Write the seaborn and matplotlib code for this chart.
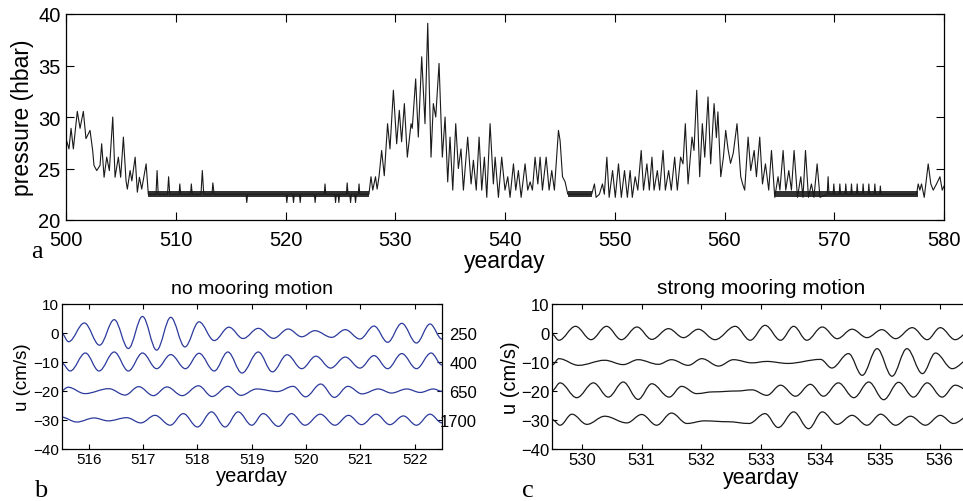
import matplotlib
matplotlib.use("Agg")
import matplotlib.pyplot as plt
import matplotlib.transforms as mtransforms
from matplotlib.path import Path
from matplotlib.patches import PathPatch
import seaborn as sns

# ---------------- panel a : pressure record ----------------
p_day = [500.0, 500.27, 500.46, 500.67, 501.03, 501.28, 501.58, 501.82, 502.19, 502.43,
         502.55, 502.8, 503.1, 503.25, 503.47, 503.71, 503.95, 504.26, 504.47, 504.77,
         504.98, 505.23, 505.47, 505.59, 505.84, 506.0, 506.3, 506.5, 506.69, 506.9,
         507.3, 507.5,
         508.2, 508.3, 508.4, 509.25, 509.35, 509.45, 510.3, 510.37, 510.45,
         511.35, 511.42, 511.5, 512.3, 512.42, 512.55, 513.3, 513.38, 513.5,
         516.4, 516.47, 516.55, 520.05, 520.12, 520.2, 520.66, 520.73, 520.8,
         521.27, 521.34, 521.41, 522.63, 522.7, 522.77, 523.53, 523.6, 523.67,
         524.5, 524.56, 524.63, 524.8, 524.86, 524.93, 525.55, 525.62, 525.7,
         525.86, 525.93, 526.0, 526.31, 526.38, 526.45, 526.63, 526.7, 526.77,
         527.6, 527.79, 527.95, 528.2, 528.35, 528.52, 528.76, 529.0, 529.3, 529.52,
         529.83, 530.13, 530.37, 530.58, 530.83, 531.1, 531.44, 531.55, 531.86, 532.1,
         532.41, 532.71, 532.96, 533.26, 533.47, 533.69, 533.99, 534.29, 534.54, 534.78,
         534.99, 535.24, 535.51, 535.75, 535.99, 536.21, 536.6, 536.91, 537.12, 537.38,
         537.64, 537.88, 538.12, 538.34, 538.64, 538.94, 539.1, 539.4, 539.7, 540.0,
         540.25, 540.46, 540.77, 540.98, 541.22, 541.47, 541.83, 542.07, 542.29, 542.5,
         542.74, 542.99, 543.2, 543.41, 543.75, 544.02, 544.26, 544.5, 544.87, 545.02,
         545.24, 545.48, 545.72,
         547.9, 548.15, 548.3, 548.6, 548.88, 549.05, 549.28, 549.49, 549.8, 550.05,
         550.34, 550.6, 550.89, 551.15, 551.4, 551.6, 551.86, 552.1, 552.41, 552.62,
         552.93, 553.15, 553.39, 553.58, 553.88, 554.09, 554.4, 554.61, 554.91, 555.15,
         555.46, 555.7, 556.0, 556.22, 556.43, 556.68, 557.04, 557.22, 557.47, 557.74,
         557.98, 558.2, 558.5, 558.74, 559.05, 559.26, 559.4, 559.66, 559.9, 560.11,
         560.32, 560.55, 560.8, 561.14, 561.48, 561.65, 561.84, 562.15, 562.39, 562.7,
         562.91, 563.21, 563.46, 563.73, 564.03, 564.28, 564.58, 564.88, 565.05, 565.34,
         565.58, 565.86, 566.1, 566.34, 566.65, 566.95, 567.15, 567.38, 567.65, 567.92,
         568.15, 568.44, 568.7,
         569.36, 569.44, 569.52, 569.9, 569.96, 570.03, 570.45, 570.51, 570.58,
         570.99, 571.05, 571.12, 571.51, 571.57, 571.64, 572.03, 572.09, 572.16,
         572.57, 572.63, 572.7, 573.09, 573.15, 573.22, 573.64, 573.7, 573.77,
         574.14, 574.2, 574.27,
         577.5, 577.65, 577.8, 577.95, 578.2, 578.56, 578.8, 579.02, 579.32, 579.63,
         579.84, 580.0]
p_hbar = [27.9, 26.9, 28.9, 26.9, 30.55, 28.9, 30.55, 27.9, 28.7, 26.75,
          25.3, 24.8, 25.3, 27.4, 24.15, 26.1, 24.8, 30.0, 24.15, 26.1,
          24.15, 28.05, 23.8, 23.0, 24.8, 23.8, 26.1, 22.7, 24.15, 23.0,
          25.45, 22.5,
          22.5, 24.8, 22.5, 22.5, 24.2, 22.5, 22.5, 23.5, 22.5,
          22.5, 23.5, 22.5, 22.5, 24.8, 22.5, 22.5, 23.6, 22.5,
          22.5, 21.7, 22.5, 22.5, 21.7, 22.5, 22.5, 21.7, 22.5,
          22.5, 21.7, 22.5, 22.5, 21.7, 22.5, 22.5, 23.5, 22.5,
          22.5, 21.7, 22.5, 22.5, 21.7, 22.5, 22.5, 23.6, 22.5,
          22.5, 21.7, 22.5, 22.5, 21.7, 22.5, 22.5, 23.5, 22.5,
          22.5, 24.2, 22.9, 24.2, 23.0, 24.2, 26.75, 24.3, 29.35, 26.9,
          32.6, 27.4, 30.65, 27.6, 31.3, 26.1, 29.35, 28.9, 33.7, 28.05,
          35.85, 29.35, 39.1, 26.1, 31.3, 30.0, 35.2, 26.1, 30.0, 23.7,
          28.05, 22.9, 29.35, 25.0, 26.9, 22.9, 28.05, 23.5, 25.8, 22.9,
          28.05, 22.9, 26.1, 22.2, 29.35, 23.5, 26.1, 22.2, 26.1, 22.9,
          24.2, 22.2, 25.45, 22.9, 24.8, 22.2, 25.45, 22.9, 23.7, 22.9,
          26.1, 23.5, 26.1, 22.9, 26.1, 22.9, 24.8, 22.9, 28.7, 27.7,
          24.2, 23.7, 22.5,
          22.5, 23.5, 22.2, 22.5, 23.5, 22.5, 26.1, 22.2, 24.8, 22.2,
          25.45, 22.2, 24.8, 22.2, 24.8, 22.2, 24.2, 22.9, 26.75, 22.9,
          25.45, 22.9, 26.1, 22.9, 24.8, 22.9, 26.75, 22.9, 24.8, 22.9,
          26.1, 22.9, 26.1, 25.45, 29.35, 23.5, 28.05, 26.75, 32.6, 24.2,
          29.35, 26.1, 31.95, 25.45, 31.3, 28.0, 30.5, 24.2, 26.1, 28.7,
          26.9, 25.5, 26.5, 29.35, 24.2, 23.5, 22.9, 28.05, 24.8, 26.75,
          24.2, 28.05, 23.5, 25.45, 22.9, 26.75, 22.2, 24.2, 22.9, 26.75,
          22.9, 24.8, 22.9, 26.75, 22.2, 24.2, 22.2, 26.75, 22.2, 23.5,
          22.2, 25.45, 22.2,
          22.5, 24.2, 22.5, 22.5, 23.5, 22.5, 22.5, 23.5, 22.5,
          22.5, 23.5, 22.5, 22.5, 23.5, 22.5, 22.5, 23.5, 22.5,
          22.5, 23.5, 22.5, 22.5, 23.5, 22.5, 22.5, 23.5, 22.5,
          22.5, 23.3, 22.5,
          22.5, 23.5, 22.9, 23.5, 22.2, 25.45, 23.5, 22.9, 23.5, 24.2,
          22.9, 23.3]
# stretches where the recorder toggles between two quantisation levels
band_start = [507.5, 545.7, 564.6]
band_end = [527.6, 547.95, 577.6]
band_low, band_high = 22.2, 22.85

# ---------------- panel b : no mooring motion (extrema of each trace) ----------------
b_labels = ["250", "400", "650", "1700"]
b_label_y = [0, -10, -20, -30]
b_day = [
    [515.5, 515.63, 515.92, 516.2, 516.47, 516.73, 516.99, 517.25, 517.51, 517.77, 518.03,
     518.31, 518.58, 518.84, 519.12, 519.4, 519.67, 519.92, 520.16, 520.47, 520.72, 520.99,
     521.25, 521.5, 521.76, 522.03, 522.28, 522.5],
    [515.5, 515.66, 515.94, 516.19, 516.47, 516.73, 516.99, 517.25, 517.51, 517.78, 518.03,
     518.31, 518.56, 518.82, 519.12, 519.38, 519.65, 519.92, 520.18, 520.45, 520.72, 520.99,
     521.25, 521.5, 521.76, 522.03, 522.3, 522.5],
    [515.5, 515.62, 515.93, 516.37, 516.67, 516.92, 517.19, 517.44, 517.72, 518.02, 518.27,
     518.56, 518.8, 519.09, 519.47, 519.76, 519.99, 520.27, 520.52, 520.77, 521.03, 521.33,
     521.57, 521.85, 522.1, 522.34, 522.5],
    [515.5, 515.78, 516.1, 516.36, 516.7, 516.96, 517.22, 517.5, 517.74, 518.0, 518.26,
     518.51, 518.75, 519.0, 519.21, 519.49, 519.73, 519.98, 520.26, 520.53, 520.78, 521.02,
     521.29, 521.54, 521.79, 522.03, 522.28, 522.5],
]
b_u = [
    [0.0, -3.0, 3.45, -4.2, 4.6, -5.35, 5.7, -5.9, 5.4, -4.8, 3.85,
     -2.6, 2.0, -1.9, 1.6, -1.84, 1.38, -1.3, 0.8, -1.5, 1.15, -2.07,
     2.4, -3.2, 3.33, -3.45, 3.1, -2.1],
    [-10.3, -13.1, -6.9, -13.1, -6.55, -13.1, -6.9, -12.3, -7.45, -12.3, -7.0,
     -13.1, -6.55, -13.8, -6.55, -13.4, -7.5, -12.3, -8.0, -12.1, -8.3, -12.1,
     -7.8, -12.3, -7.1, -12.3, -6.9, -11.0],
    [-19.9, -18.7, -20.9, -19.2, -21.4, -18.5, -21.6, -18.6, -21.6, -18.2, -21.9,
     -18.4, -21.5, -19.3, -20.2, -18.4, -22.0, -17.6, -22.2, -18.4, -21.0, -19.3,
     -20.7, -19.3, -20.5, -19.3, -20.1],
    [-29.0, -30.7, -29.3, -30.3, -29.2, -31.0, -28.4, -31.8, -27.8, -32.4, -27.2,
     -32.4, -27.2, -31.8, -27.8, -32.2, -27.8, -31.8, -28.0, -31.8, -28.4, -31.6,
     -28.0, -31.6, -28.6, -31.8, -28.0, -31.0],
]

# ---------------- panel c : strong mooring motion ----------------
c_day = [
    [529.5, 529.61, 529.89, 530.15, 530.41, 530.66, 530.92, 531.17, 531.45, 531.7, 531.95,
     532.23, 532.57, 532.82, 533.07, 533.33, 533.55, 533.77, 534.03, 534.28, 534.53, 534.78,
     535.03, 535.26, 535.54, 535.79, 536.01, 536.26, 536.5],
    [529.5, 529.61, 529.94, 530.38, 530.69, 530.94, 531.28, 531.5, 531.78, 532.01, 532.29,
     532.54, 532.85, 533.1, 533.45, 534.0, 534.19, 534.47, 534.7, 534.95, 535.2, 535.45,
     535.71, 535.93, 536.21, 536.5],
    [529.5, 529.63, 529.91, 530.19, 530.44, 530.69, 530.94, 531.17, 531.46, 531.67, 531.92,
     532.2, 532.6, 532.85, 533.1, 533.33, 533.58, 533.83, 534.05, 534.3, 534.56, 534.81,
     535.06, 535.31, 535.56, 535.79, 536.04, 536.26, 536.5],
    [529.5, 529.63, 529.83, 530.08, 530.38, 530.75, 531.0, 531.25, 531.5, 531.76, 532.05,
     532.45, 532.8, 533.07, 533.29, 533.55, 533.8, 534.03, 534.28, 534.53, 534.78, 535.01,
     535.26, 535.51, 535.76, 536.01, 536.23, 536.5],
]
c_u = [
    [-0.5, -2.5, 2.3, -2.3, 2.3, -2.3, 2.07, -2.2, 1.5, -1.6, 1.3,
     -2.3, 2.3, -2.5, 2.64, -2.5, 2.3, -2.5, 2.07, -1.95, 1.3, -1.6,
     1.15, -1.95, 1.84, -2.3, 1.84, -2.3, 0.5],
    [-11.0, -8.85, -11.15, -9.4, -10.9, -9.2, -10.8, -9.2, -11.15, -8.85, -11.4,
     -9.2, -10.3, -9.8, -10.5, -9.1, -12.07, -7.1, -14.6, -5.4, -14.9, -5.4,
     -14.0, -6.9, -12.3, -9.0],
    [-19.8, -17.2, -22.3, -17.2, -22.1, -16.9, -22.9, -17.5, -22.1, -18.4, -20.9,
     -20.3, -20.0, -19.6, -21.5, -18.0, -21.8, -17.7, -21.8, -17.2, -22.3, -16.9,
     -23.0, -17.0, -22.1, -17.2, -22.1, -18.0, -20.0],
    [-29.9, -31.8, -28.0, -31.5, -28.7, -31.0, -28.1, -31.8, -27.6, -31.2, -30.3,
     -30.6, -31.2, -27.8, -32.6, -27.2, -33.0, -27.2, -31.5, -28.4, -31.8, -28.0,
     -31.8, -28.7, -31.8, -28.4, -31.2, -28.5],
]


def wave_patch(days, values, color):
    # smooth curve through the extrema (horizontal tangent at every extremum)
    verts = [(days[0], values[0])]
    codes = [Path.MOVETO]
    for i in range(1, len(days)):
        d = days[i] - days[i - 1]
        verts += [(days[i - 1] + 0.36 * d, values[i - 1]),
                  (days[i] - 0.36 * d, values[i]),
                  (days[i], values[i])]
        codes += [Path.CURVE4] * 3
    return PathPatch(Path(verts, codes), fill=False, edgecolor=color, lw=0.9)


sns.set_theme(style="ticks")
plt.rcParams['font.family'] = ['Liberation Sans', 'DejaVu Sans']
plt.rcParams['axes.linewidth'] = 0.9
for k in ['text.color', 'axes.labelcolor', 'xtick.color', 'ytick.color', 'axes.edgecolor']:
    plt.rcParams[k] = 'black'

fig = plt.figure(figsize=(9.63, 5.02), dpi=100)
W, H = 963, 502
ax_a = fig.add_axes([66 / W, 1 - 221 / H, 878 / W, 206 / H])
ax_b = fig.add_axes([61.5 / W, 1 - 450 / H, 380.5 / W, 145 / H])
ax_c = fig.add_axes([552.3 / W, 1 - 450 / H, 417.2 / W, 145 / H])

# panel a
for s, e in zip(band_start, band_end):
    ax_a.fill_between([s, e], band_low, band_high, color='0.2', lw=0)
sns.lineplot(x=p_day, y=p_hbar, ax=ax_a, color='0.1', lw=0.8, estimator=None, sort=False)
ax_a.set_xlim(500, 580)
ax_a.set_ylim(20, 40)
ax_a.set_xticks(range(500, 581, 10))
ax_a.set_yticks(range(20, 41, 5))
ax_a.tick_params(direction='in', top=True, right=True, length=6, width=0.8,
                 labelsize=14.5, pad=4)
ax_a.tick_params(axis='x', pad=7)
ax_a.set_xlabel('yearday', fontsize=16.5, labelpad=0)
ax_a.set_ylabel('pressure (hbar)', fontsize=16.5, labelpad=3)

# panels b and c
for ax, days, us, col, xl, title, fs in [
        (ax_b, b_day, b_u, '#2b3a9c', (515.5, 522.5), 'no mooring motion', 11),
        (ax_c, c_day, c_u, '#1a1a1a', (529.5, 536.5), 'strong mooring motion', 12)]:
    for d, u in zip(days, us):
        ax.add_patch(wave_patch(d, u, col))
    ax.set_xlim(*xl)
    ax.set_ylim(-40, 10)
    ax.set_xticks(range(int(xl[0]) + 1, int(xl[1]) + 1))
    ax.set_yticks(range(-40, 11, 10))
    ax.tick_params(direction='in', top=True, right=True, length=3.5, width=0.8,
                   labelsize=fs, pad=2)
    ax.set_xlabel('yearday', fontsize=fs + 3.5, labelpad=0)
    ax.set_ylabel('u (cm/s)', fontsize=fs + 2.5, labelpad=1)
    ax.set_title(title, fontsize=fs + 3, pad=8)

trans = mtransforms.blended_transform_factory(ax_b.transAxes, ax_b.transData)
for lab, y in zip(b_labels, b_label_y):
    ax_b.text(1.092, y - 0.5, lab, transform=trans, ha='right', va='center', fontsize=12)

serif = ['Liberation Serif', 'DejaVu Serif']
fig.text(31 / W, 1 - 258 / H, 'a', family=serif, fontsize=19)
fig.text(34 / W, 1 - 497 / H, 'b', family=serif, fontsize=19)
fig.text(522 / W, 1 - 497 / H, 'c', family=serif, fontsize=19)

fig.savefig('out.png', dpi=100)
